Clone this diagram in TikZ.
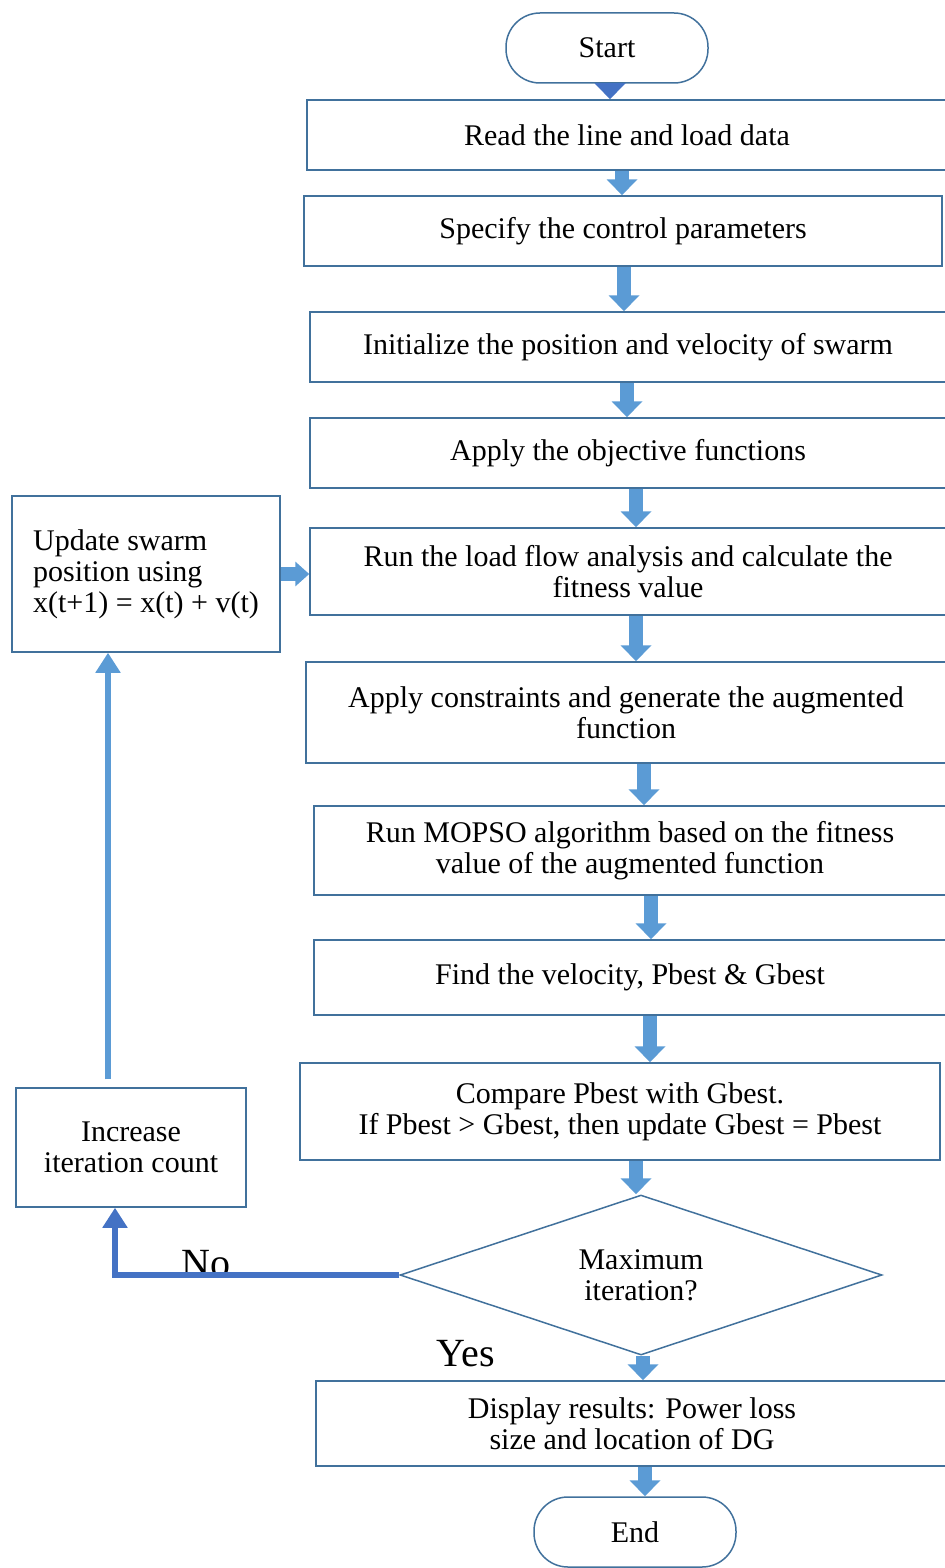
\documentclass[tikz,border=0pt]{standalone}
\usepackage{fontspec}
\setmainfont{Liberation Serif}
\usetikzlibrary{arrows.meta,positioning,shapes.geometric,calc}
\definecolor{fcline}{HTML}{41719C}
\definecolor{fcfill}{HTML}{5B9BD5}
\definecolor{fcdark}{HTML}{4472C4}
\tikzset{
  proc/.style={draw=fcline,fill=white,line width=0.75pt,align=center,
               inner sep=2pt,font=\fontsize{15}{15.5}\selectfont},
  term/.style={proc,rounded corners=17pt},
  dec/.style={draw=fcline,fill=white,line width=0.75pt,diamond,aspect=3,align=center,
              inner sep=0pt,font=\fontsize{15}{15.5}\selectfont},
  blk/.style={line width=7pt,fcfill,-{Triangle[length=8pt,width=15pt]}},
  noline/.style={line width=3pt,fcdark,-{Triangle[length=10pt,width=12pt]}},
  upline/.style={line width=3pt,fcfill,-{Triangle[length=10pt,width=12pt]}},
  lab/.style={font=\fontsize{20}{22}\selectfont,inner sep=0pt},
}
\begin{document}
\begin{tikzpicture}[x=0.5pt,y=-0.5pt]
  \useasboundingbox (0,0) rectangle (944,1568);
  % main column
  \node[term,minimum width=101pt,minimum height=35pt] (start) at (607,48) {Start};
  \node[proc,minimum width=320pt,minimum height=35pt] (read) at (627,135) {Read the line and load data};
  \node[proc,minimum width=319pt,minimum height=35pt] (spec) at (623,231) {Specify the control parameters};
  \node[proc,minimum width=318pt,minimum height=35pt] (init) at (628,347) {Initialize the position and velocity of swarm};
  \node[proc,minimum width=318pt,minimum height=35pt] (obj) at (628,453) {Apply the objective functions};
  \node[proc,minimum width=318pt,minimum height=43.5pt] (run) at (628,571.5) {Run the load flow analysis and calculate the\\fitness value};
  \node[proc,minimum width=320pt,minimum height=50.5pt] (cons) at (626,712.5) {Apply constraints and generate the augmented\\function};
  \node[proc,minimum width=316pt,minimum height=44.5pt] (mopso) at (630,850.5) {Run MOPSO algorithm based on the fitness\\value of the augmented function};
  \node[proc,minimum width=316pt,minimum height=37.5pt] (find) at (630,977.5) {Find the velocity, Pbest \& Gbest};
  \node[proc,minimum width=320pt,minimum height=48.5pt] (cmp) at (620,1111.5) {Compare Pbest with Gbest.\\If Pbest > Gbest, then update Gbest = Pbest};
  \node[dec,minimum width=241pt,minimum height=80pt] (max) at (641,1275) {Maximum\\iteration?};
  \node[proc,minimum width=316pt,minimum height=42.5pt] (disp) at (632,1423.5) {Display results: Power loss\\size and location of DG};
  \node[term,minimum width=101pt,minimum height=35pt] (end) at (635,1532) {End};
  % loop boxes
  \node[proc,align=left,minimum width=134pt,minimum height=78pt] (upd) at (146,574) {Update swarm\\position using\\x(t+1) = x(t) + v(t)};
  \node[proc,minimum width=115pt,minimum height=59.5pt] (inc) at (131,1147.5) {Increase\\iteration count};
  % block arrows
  \draw[blk,fcdark] ([xshift=1.5pt]start.south) -- ([xshift=1.5pt]start.south |- read.north);
  \foreach \a/\b/\dx in {read/spec/-2.5pt,spec/init/0.5pt,init/obj/-0.5pt,obj/run/4pt,
      run/cons/4pt,cons/mopso/9pt,mopso/find/10.5pt,find/cmp/10pt,cmp/max/8pt,
      max/disp/1pt,disp/end/6.5pt}
    \draw[blk] ([xshift=\dx]\a.south) -- ([xshift=\dx]\a.south |- \b.north);
  \draw[blk,-{Triangle[length=7pt,width=12pt]}] (upd.east) -- (upd.east -| run.west);
  % loop back
  \node[lab,anchor=base] (no) at (206,1276) {No};
  \node[lab,anchor=base] (yes) at (466,1366) {Yes};
  \draw[noline] (max.west) -- ([xshift=-8pt]max.west -| inc.south) -- ([xshift=-8pt]inc.south);
  \draw[upline] ([xshift=-11.5pt,yshift=4pt]inc.north) -- ([xshift=-11.5pt]inc.north |- upd.south);
\end{tikzpicture}
\end{document}
